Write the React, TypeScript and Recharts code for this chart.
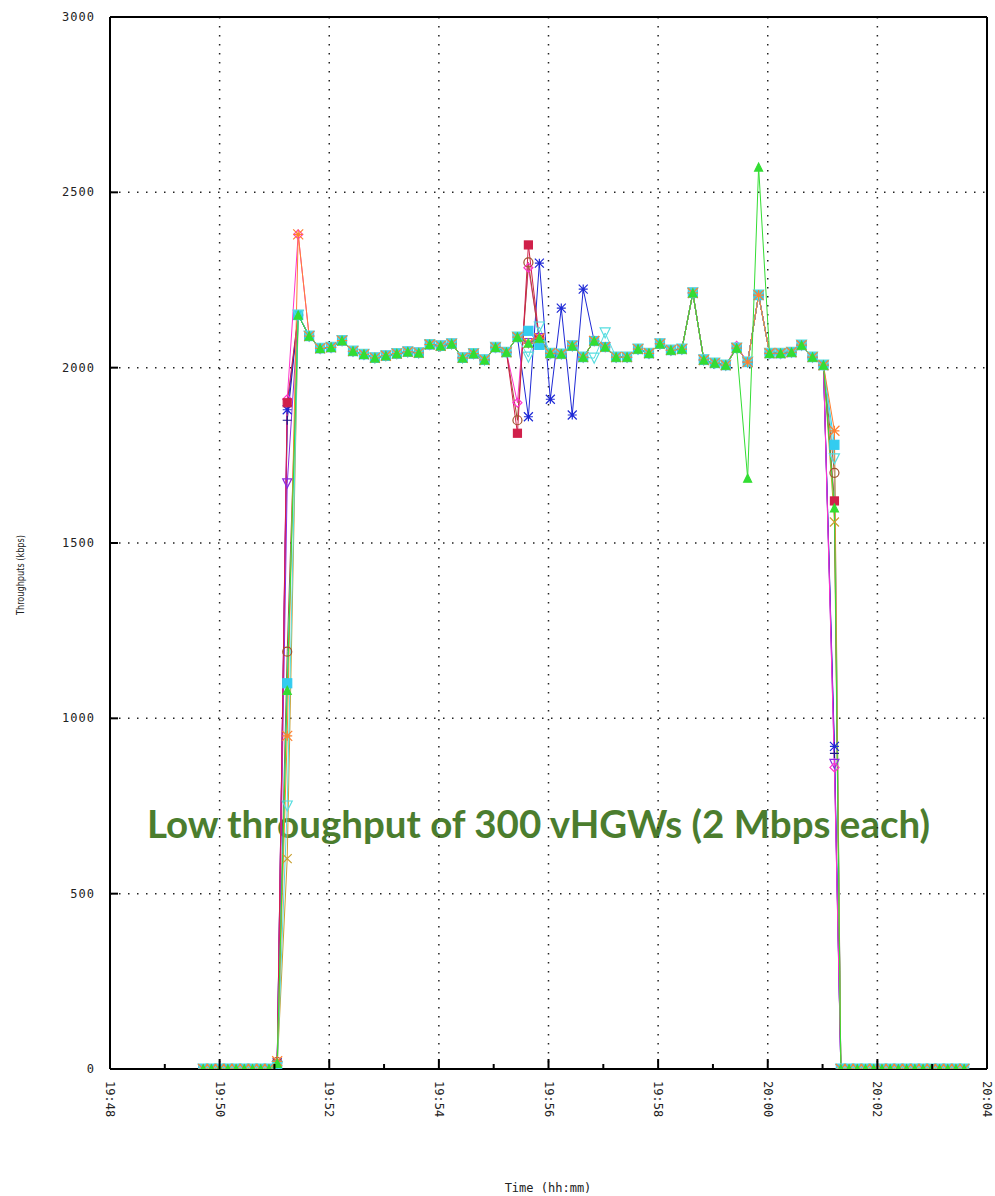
import React from "react";
import { CartesianGrid, Line, LineChart, ReferenceLine, XAxis, YAxis } from "recharts";

// time is in seconds after 19:48
const leadTimes = [102, 111, 120, 129, 138, 147, 156, 165, 174];
const riseTimes = [183, 194];
const plateauTimes = [
  206, 218, 230, 242, 254, 266, 278, 290, 302, 314, 326, 338, 350, 362, 374, 386, 398, 410, 422, 434,
  446, 458, 470, 482, 494, 506, 518, 530, 542, 554, 566, 578, 590, 602, 614, 626, 638, 650, 662, 674,
  686, 698, 710, 722, 734, 746, 757, 769, 781,
];
const fallTime = 793;
const tailTimes = [800, 809, 818, 827, 836, 845, 854, 863, 872, 881, 890, 899, 908, 917, 926, 935];

const timeTicks = [0, 60, 120, 180, 240, 300, 360, 420, 480, 540, 600, 660, 720, 780, 840, 900, 960];
const majorTimes = [120, 240, 360, 480, 600, 720, 840];
const kbpsTicks = [0, 500, 1000, 1500, 2000, 2500, 3000];
const gridKbps = [500, 1000, 1500, 2000, 2500];

// shared throughput (kbps) of all vHGWs on the plateau
const plateau = [
  2150, 2090, 2055, 2058, 2077, 2047, 2038, 2028, 2034, 2040,
  2045, 2042, 2066, 2062, 2068, 2028, 2040, 2022, 2058, 2044,
  2087, 2070, 2084, 2041, 2039, 2062, 2030, 2076, 2059, 2030,
  2030, 2053, 2041, 2068, 2050, 2053, 2213, 2022, 2013, 2007,
  2056, 2016, 2207, 2041, 2041, 2044, 2064, 2030, 2007,
];

// per series, in drawing order
const seriesKeys = ["navy", "blue", "purple", "olive", "magenta", "brown", "red", "cyanSquare", "cyanTri", "orange", "green"];
const riseStart = [12, 18, 8, 5, 15, 20, 14, 10, 6, 22, 16];
const riseLevel = [1850, 1880, 1670, 600, 1910, 1190, 1900, 1100, 750, 950, 1080];
const fallLevel = [900, 920, 870, 1560, 860, 1700, 1620, 1780, 1740, 1820, 1600];

// deviations from the plateau (start index into plateauTimes)
const startPeak = [2380];
const redBurst = [1813, 2350, 2080];
const brownBurst = [1850, 2300, 2075];
const magentaBurst = [1900, 2285, 2085];
const blueBurst = [1860, 2298, 1910, 2170, 1865, 2224];
const cyanSquareBurst = [2105, 2065];
const cyanTriBurst = [2030, 2116, 2041, 2039, 2062, 2030, 2027, 2099];
const magentaBump = [2062];
const greenBurst = [1685, 2572];

const overrides: Record<string, [number, number[]][]> = {
  magenta: [[0, startPeak], [20, magentaBurst], [40, magentaBump]],
  orange: [[0, startPeak]],
  red: [[20, redBurst]],
  brown: [[20, brownBurst]],
  blue: [[21, blueBurst]],
  cyanSquare: [[21, cyanSquareBurst]],
  cyanTri: [[21, cyanTriBurst]],
  green: [[41, greenBurst]],
};

const styles: Record<string, { color: string; shape: string; size: number }> = {
  navy: { color: "#1a1a8c", shape: "plus", size: 4.5 },
  blue: { color: "#1f2ad6", shape: "star", size: 4.5 },
  purple: { color: "#8a2be2", shape: "triDown", size: 4.5 },
  olive: { color: "#c8a030", shape: "cross", size: 4.5 },
  magenta: { color: "#ff33cc", shape: "diamond", size: 4.5 },
  brown: { color: "#a0522d", shape: "circle", size: 4.5 },
  red: { color: "#d0204a", shape: "squareFill", size: 4 },
  cyanSquare: { color: "#33ccf0", shape: "squareFill", size: 4.5 },
  cyanTri: { color: "#55dde0", shape: "triDown", size: 5 },
  orange: { color: "#ff8030", shape: "star", size: 5 },
  green: { color: "#33dd33", shape: "triFill", size: 4 },
};

function buildSeries(i: number) {
  const key = seriesKeys[i];
  const values = plateau.slice();
  (overrides[key] || []).forEach(([start, vals]) => vals.forEach((v, j) => (values[start + j] = v)));
  return [
    ...leadTimes.map((t) => ({ t, v: 0 })),
    { t: riseTimes[0], v: riseStart[i] },
    { t: riseTimes[1], v: riseLevel[i] },
    ...plateauTimes.map((t, k) => ({ t, v: values[k] })),
    { t: fallTime, v: fallLevel[i] },
    ...tailTimes.map((t) => ({ t, v: 0 })),
  ];
}

function Marker({ cx, cy, shape, color, s }: any) {
  if (cx == null || cy == null) return <g />;
  const sw = 1.2;
  switch (shape) {
    case "plus":
      return <path d={`M${cx - s},${cy}H${cx + s}M${cx},${cy - s}V${cy + s}`} stroke={color} strokeWidth={sw} fill="none" />;
    case "cross":
      return <path d={`M${cx - s},${cy - s}L${cx + s},${cy + s}M${cx - s},${cy + s}L${cx + s},${cy - s}`} stroke={color} strokeWidth={sw} fill="none" />;
    case "star":
      return (
        <path
          d={`M${cx - s},${cy}H${cx + s}M${cx},${cy - s}V${cy + s}M${cx - s},${cy - s}L${cx + s},${cy + s}M${cx - s},${cy + s}L${cx + s},${cy - s}`}
          stroke={color}
          strokeWidth={sw}
          fill="none"
        />
      );
    case "squareFill":
      return <rect x={cx - s} y={cy - s} width={2 * s} height={2 * s} fill={color} stroke={color} strokeWidth={sw} />;
    case "circle":
      return <circle cx={cx} cy={cy} r={s} fill="none" stroke={color} strokeWidth={sw} />;
    case "diamond":
      return <path d={`M${cx},${cy - s}L${cx + s},${cy}L${cx},${cy + s}L${cx - s},${cy}Z`} fill="none" stroke={color} strokeWidth={sw} />;
    case "triDown":
      return <path d={`M${cx - s},${cy - s}L${cx + s},${cy - s}L${cx},${cy + s}Z`} fill="none" stroke={color} strokeWidth={sw} />;
    case "triFill":
      return <path d={`M${cx - s},${cy + s}L${cx + s},${cy + s}L${cx},${cy - s}Z`} fill={color} stroke={color} strokeWidth={sw} />;
    default:
      return <g />;
  }
}

function clock(sec: number) {
  const total = 19 * 60 + 48 + sec / 60;
  const h = Math.floor(total / 60);
  const m = Math.round(total - h * 60);
  return `${h}:${String(m).padStart(2, "0")}`;
}

function TimeTick({ x, y, payload }: any) {
  const major = payload.value % 120 === 0;
  return (
    <g>
      <line x1={x} y1={y} x2={x} y2={y - (major ? 10 : 5)} stroke="#000" strokeWidth={2} />
      {major && (
        <text
          transform={`translate(${x},${y + 12}) rotate(90)`}
          textAnchor="start"
          dominantBaseline="central"
          fontFamily="'DejaVu Sans Mono', monospace"
          fontSize={12}
          fill="#222"
        >
          {clock(payload.value)}
        </text>
      )}
    </g>
  );
}

function KbpsTick({ x, y, payload }: any) {
  return (
    <g>
      <line x1={x} y1={y} x2={x + 8} y2={y} stroke="#000" strokeWidth={2} />
      <text
        x={x - 15}
        y={y}
        textAnchor="end"
        dominantBaseline="central"
        fontFamily="'DejaVu Sans Mono', monospace"
        fontSize={12}
        letterSpacing={1}
        fill="#222"
      >
        {payload.value}
      </text>
    </g>
  );
}

export default function App() {
  return (
    <div style={{ position: "absolute", left: 0, top: 0, width: 995, height: 1196, background: "#fff" }}>
      <svg width={995} height={1196} style={{ position: "absolute", left: 0, top: 0 }}>
        <text x={147} y={838} fontFamily="Lato, 'Open Sans', sans-serif" fontWeight={700} fontSize={38.5} fill="#4b7d2e">
          Low throughput of 300 vHGWs (2 Mbps each)
        </text>
        <text x={548} y={1192} textAnchor="middle" fontFamily="'DejaVu Sans Mono', monospace" fontSize={12} fill="#222">
          Time (hh:mm)
        </text>
        <text
          transform="translate(24,575) rotate(-90)"
          textAnchor="middle"
          fontFamily="'DejaVu Sans Condensed', 'DejaVu Sans', sans-serif"
          fontSize={11}
          textLength={80}
          lengthAdjust="spacingAndGlyphs"
          fill="#222"
        >
          Throughputs (kbps)
        </text>
      </svg>
      <div style={{ position: "absolute", left: 0, top: 0 }}>
        <LineChart width={995} height={1196} margin={{ top: 17, right: 8, left: 0, bottom: 0 }}>
          <CartesianGrid
            stroke="#222"
            strokeWidth={1.5}
            strokeDasharray="1.5 7.5"
            horizontalValues={gridKbps}
            verticalValues={majorTimes}
          />
          <XAxis
            type="number"
            dataKey="t"
            domain={[0, 960]}
            ticks={timeTicks}
            interval={0}
            height={127}
            tickSize={0}
            tickMargin={0}
            tickLine={false}
            axisLine={{ stroke: "#000", strokeWidth: 2 }}
            tick={<TimeTick />}
            allowDataOverflow
          />
          <YAxis
            type="number"
            domain={[0, 3000]}
            ticks={kbpsTicks}
            interval={0}
            width={110}
            tickSize={0}
            tickMargin={0}
            tickLine={false}
            axisLine={{ stroke: "#000", strokeWidth: 2 }}
            tick={<KbpsTick />}
            allowDataOverflow
          />
          <ReferenceLine y={3000} stroke="#000" strokeWidth={2} />
          <ReferenceLine x={960} stroke="#000" strokeWidth={2} />
          {seriesKeys.map((key, i) => {
            const st = styles[key];
            return (
              <Line
                key={key}
                data={buildSeries(i)}
                dataKey="v"
                type="linear"
                stroke={st.color}
                strokeWidth={1}
                dot={(p: any) => (
                  <Marker key={`${key}-${p.index}`} cx={p.cx} cy={p.cy} shape={st.shape} color={st.color} s={st.size} />
                )}
                activeDot={false}
                isAnimationActive={false}
              />
            );
          })}
        </LineChart>
      </div>
    </div>
  );
}
